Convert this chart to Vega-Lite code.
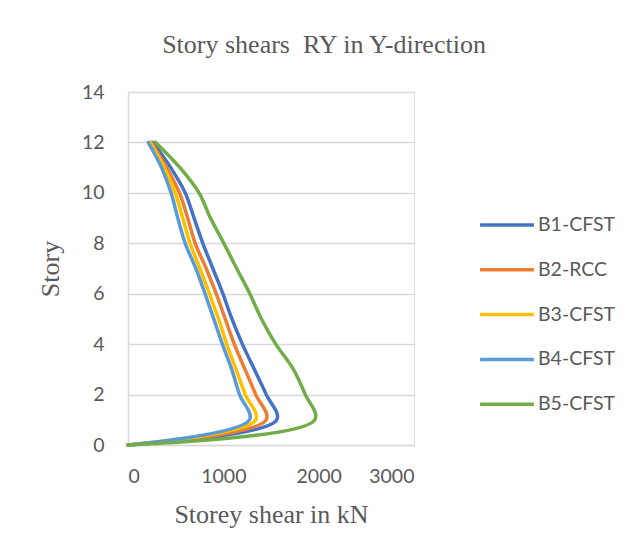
{
  "$schema": "https://vega.github.io/schema/vega-lite/v6.json",
  "autosize": {"type": "none"},
  "width": 286,
  "height": 353,
  "padding": {"left": 128, "top": 92, "right": 227, "bottom": 110},
  "background": "white",
  "title": {
    "text": "Story shears\u00a0 RY in Y-direction",
    "font": "Liberation Serif",
    "fontSize": 26,
    "fontWeight": "normal",
    "color": "#595959",
    "anchor": "middle",
    "dx": 53,
    "offset": 24
  },
  "data": {
    "values": [
      {"series": "B1-CFST", "story": 0, "shear": 0},
      {"series": "B1-CFST", "story": 1, "shear": 1560},
      {"series": "B1-CFST", "story": 2, "shear": 1450},
      {"series": "B1-CFST", "story": 3, "shear": 1325},
      {"series": "B1-CFST", "story": 4, "shear": 1200},
      {"series": "B1-CFST", "story": 5, "shear": 1090},
      {"series": "B1-CFST", "story": 6, "shear": 995},
      {"series": "B1-CFST", "story": 7, "shear": 890},
      {"series": "B1-CFST", "story": 8, "shear": 785},
      {"series": "B1-CFST", "story": 9, "shear": 693},
      {"series": "B1-CFST", "story": 10, "shear": 600},
      {"series": "B1-CFST", "story": 11, "shear": 448},
      {"series": "B1-CFST", "story": 12, "shear": 265},
      {"series": "B2-RCC", "story": 0, "shear": 0},
      {"series": "B2-RCC", "story": 1, "shear": 1450},
      {"series": "B2-RCC", "story": 2, "shear": 1340},
      {"series": "B2-RCC", "story": 3, "shear": 1227},
      {"series": "B2-RCC", "story": 4, "shear": 1115},
      {"series": "B2-RCC", "story": 5, "shear": 1020},
      {"series": "B2-RCC", "story": 6, "shear": 925},
      {"series": "B2-RCC", "story": 7, "shear": 820},
      {"series": "B2-RCC", "story": 8, "shear": 705},
      {"series": "B2-RCC", "story": 9, "shear": 626},
      {"series": "B2-RCC", "story": 10, "shear": 540},
      {"series": "B2-RCC", "story": 11, "shear": 405},
      {"series": "B2-RCC", "story": 12, "shear": 245},
      {"series": "B3-CFST", "story": 0, "shear": 0},
      {"series": "B3-CFST", "story": 1, "shear": 1340},
      {"series": "B3-CFST", "story": 2, "shear": 1230},
      {"series": "B3-CFST", "story": 3, "shear": 1133},
      {"series": "B3-CFST", "story": 4, "shear": 1035},
      {"series": "B3-CFST", "story": 5, "shear": 950},
      {"series": "B3-CFST", "story": 6, "shear": 853},
      {"series": "B3-CFST", "story": 7, "shear": 755},
      {"series": "B3-CFST", "story": 8, "shear": 650},
      {"series": "B3-CFST", "story": 9, "shear": 574},
      {"series": "B3-CFST", "story": 10, "shear": 495},
      {"series": "B3-CFST", "story": 11, "shear": 380},
      {"series": "B3-CFST", "story": 12, "shear": 230},
      {"series": "B4-CFST", "story": 0, "shear": 0},
      {"series": "B4-CFST", "story": 1, "shear": 1275},
      {"series": "B4-CFST", "story": 2, "shear": 1170},
      {"series": "B4-CFST", "story": 3, "shear": 1088},
      {"series": "B4-CFST", "story": 4, "shear": 990},
      {"series": "B4-CFST", "story": 5, "shear": 900},
      {"series": "B4-CFST", "story": 6, "shear": 808},
      {"series": "B4-CFST", "story": 7, "shear": 712},
      {"series": "B4-CFST", "story": 8, "shear": 600},
      {"series": "B4-CFST", "story": 9, "shear": 522},
      {"series": "B4-CFST", "story": 10, "shear": 452},
      {"series": "B4-CFST", "story": 11, "shear": 352},
      {"series": "B4-CFST", "story": 12, "shear": 212},
      {"series": "B5-CFST", "story": 0, "shear": 0},
      {"series": "B5-CFST", "story": 1, "shear": 1960},
      {"series": "B5-CFST", "story": 2, "shear": 1860},
      {"series": "B5-CFST", "story": 3, "shear": 1735},
      {"series": "B5-CFST", "story": 4, "shear": 1550},
      {"series": "B5-CFST", "story": 5, "shear": 1400},
      {"series": "B5-CFST", "story": 6, "shear": 1278},
      {"series": "B5-CFST", "story": 7, "shear": 1140},
      {"series": "B5-CFST", "story": 8, "shear": 1005},
      {"series": "B5-CFST", "story": 9, "shear": 865},
      {"series": "B5-CFST", "story": 10, "shear": 745},
      {"series": "B5-CFST", "story": 11, "shear": 545},
      {"series": "B5-CFST", "story": 12, "shear": 290}
    ]
  },
  "mark": {"type": "line", "interpolate": "catmull-rom", "strokeWidth": 3.5, "strokeCap": "round", "strokeJoin": "round"},
  "encoding": {
    "x": {
      "field": "shear",
      "type": "quantitative",
      "scale": {"domain": [0, 3000], "nice": false},
      "axis": {
        "values": [0, 1000, 2000, 3000],
        "format": "d",
        "grid": false,
        "ticks": false,
        "domainColor": "#d9d9d9",
        "domainWidth": 1.5,
        "labelFont": "Lato",
        "labelFontSize": 19.5,
        "labelColor": "#595959",
        "labelPadding": 22,
        "title": "Storey shear in kN",
        "titleFont": "Liberation Serif",
        "titleFontSize": 26,
        "titleFontWeight": "normal",
        "titleColor": "#595959",
        "titlePadding": 16
      }
    },
    "y": {
      "field": "story",
      "type": "quantitative",
      "scale": {"domain": [0, 14], "nice": false},
      "axis": {
        "values": [0, 2, 4, 6, 8, 10, 12, 14],
        "grid": true,
        "gridColor": "#d9d9d9",
        "gridWidth": 1.5,
        "ticks": false,
        "domainColor": "#d9d9d9",
        "domainWidth": 1.5,
        "labelFont": "Lato",
        "labelFontSize": 19.5,
        "labelColor": "#595959",
        "labelPadding": 24,
        "title": "Story",
        "titleFont": "Liberation Serif",
        "titleFontSize": 26,
        "titleFontWeight": "normal",
        "titleColor": "#595959",
        "titlePadding": 18
      }
    },
    "color": {
      "field": "series",
      "type": "nominal",
      "scale": {
        "domain": ["B1-CFST", "B2-RCC", "B3-CFST", "B4-CFST", "B5-CFST"],
        "range": ["#4472C4", "#ED7D31", "#FFC000", "#5B9BD5", "#70AD47"]
      },
      "legend": {
        "title": null,
        "orient": "none",
        "legendX": 350,
        "legendY": 104,
        "symbolType": "stroke",
        "symbolSize": 2900,
        "symbolStrokeWidth": 3.5,
        "labelFont": "Lato",
        "labelFontSize": 19.5,
        "labelColor": "#595959",
        "labelOffset": 2,
        "rowPadding": 5.8
      }
    },
    "order": {"field": "story", "type": "quantitative"}
  }
}
